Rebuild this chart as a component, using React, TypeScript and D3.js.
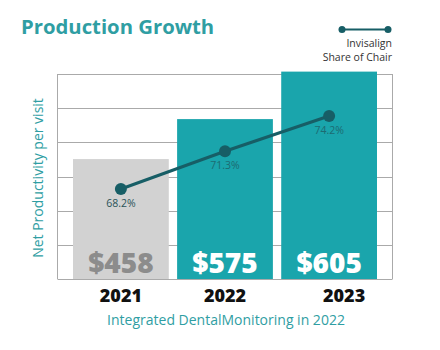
import React from "react";
import * as d3 from "d3";

const years = ["2021", "2022", "2023"];
const barLabels = ["$458", "$575", "$605"];
const barHeights = [351, 468, 607]; // on a 0–600 grid (6 gridline intervals)
const shareValues = [68.2, 71.3, 74.2];
const gridTicks = [0, 100, 200, 300, 400, 500, 600];

const W = 440;
const H = 350;
const plot = { left: 57.5, right: 392.5, top: 74, bottom: 279 };

const TEAL = "#1aa5ac";
const GRAY = "#d2d2d2";
const DARK = "#175e66";
const TEXT_TEAL = "#2f9ea3";
const FONT = "'Open Sans', 'Lato', sans-serif";

export default function App() {
  const x = d3
    .scaleBand<string>()
    .domain(years)
    .range([73, 377])
    .paddingInner(0.08)
    .paddingOuter(0);
  const y = d3.scaleLinear().domain([0, 600]).range([plot.bottom, plot.top]);
  const yPct = d3.scaleLinear().domain([60.8, 77.65]).range([plot.bottom, plot.top]);

  const linePath = d3
    .line<number>()
    .x((_, i) => (x(years[i]) as number) + x.bandwidth() / 2)
    .y((d) => yPct(d))(shareValues) as string;

  const yearShift = [0, 0, 15];

  return (
    <svg
      width={W}
      height={H}
      style={{ position: "absolute", left: 0, top: 0, background: "#fff" }}
      fontFamily={FONT}
    >
      <rect width={W} height={H} fill="#fff" />
      <text x={21} y={34} fontSize={20.3} fontWeight={700} fill={TEXT_TEAL}>
        Production Growth
      </text>

      {/* legend */}
      <line x1={342} x2={388} y1={29.5} y2={29.5} stroke={DARK} strokeWidth={2} />
      <circle cx={342} cy={29.5} r={3.5} fill={DARK} />
      <circle cx={388} cy={29.5} r={3.5} fill={DARK} />
      <text x={392} y={47} fontSize={10.5} fill="#333" textAnchor="end">
        Invisalign
      </text>
      <text x={392} y={61} fontSize={10.5} fill="#333" textAnchor="end">
        Share of Chair
      </text>

      {/* grid */}
      {gridTicks.map((t) => (
        <line
          key={t}
          x1={plot.left}
          x2={plot.right}
          y1={Math.round(y(t)) + 0.5}
          y2={Math.round(y(t)) + 0.5}
          stroke="#aaaaaa"
          strokeWidth={1}
        />
      ))}
      <line x1={plot.left} x2={plot.left} y1={plot.top} y2={plot.bottom} stroke="#aaaaaa" />
      <line x1={plot.right} x2={plot.right} y1={plot.top} y2={plot.bottom} stroke="#aaaaaa" />

      {/* bars */}
      {years.map((yr, i) => (
        <rect
          key={yr}
          x={x(yr)}
          y={y(barHeights[i])}
          width={x.bandwidth()}
          height={y(0) - y(barHeights[i])}
          fill={i === 0 ? GRAY : TEAL}
        />
      ))}
      {years.map((yr, i) => (
        <text
          key={yr}
          x={(x(yr) as number) + x.bandwidth() / 2}
          y={273}
          fontSize={28}
          fontWeight={800}
          textAnchor="middle"
          fill={i === 0 ? "#8c8c8c" : "#ffffff"}
        >
          {barLabels[i]}
        </text>
      ))}

      {/* line */}
      <path d={linePath} fill="none" stroke={DARK} strokeWidth={3} />
      {shareValues.map((v, i) => {
        const cx = (x(years[i]) as number) + x.bandwidth() / 2;
        return (
          <g key={i}>
            <circle cx={cx} cy={yPct(v)} r={6} fill={DARK} />
            <text
              x={cx}
              y={yPct(v) + 18}
              fontSize={10.5}
              textAnchor="middle"
              fill={i === 0 ? "#2a5258" : "#1d6b72"}
            >
              {v.toFixed(1)}%
            </text>
          </g>
        );
      })}

      {/* x labels */}
      {years.map((yr, i) => (
        <text
          key={yr}
          x={(x(yr) as number) + x.bandwidth() / 2 + yearShift[i]}
          y={302}
          fontSize={18}
          fontWeight={800}
          textAnchor="middle"
          fill="#111"
        >
          {yr}
        </text>
      ))}
      <text x={226} y={325} fontSize={14} textAnchor="middle" fill={TEXT_TEAL}>
        Integrated DentalMonitoring in 2022
      </text>
      <text
        transform="translate(43,178) rotate(-90)"
        fontSize={14}
        textAnchor="middle"
        fill={TEXT_TEAL}
      >
        Net Productivity per visit
      </text>
    </svg>
  );
}
